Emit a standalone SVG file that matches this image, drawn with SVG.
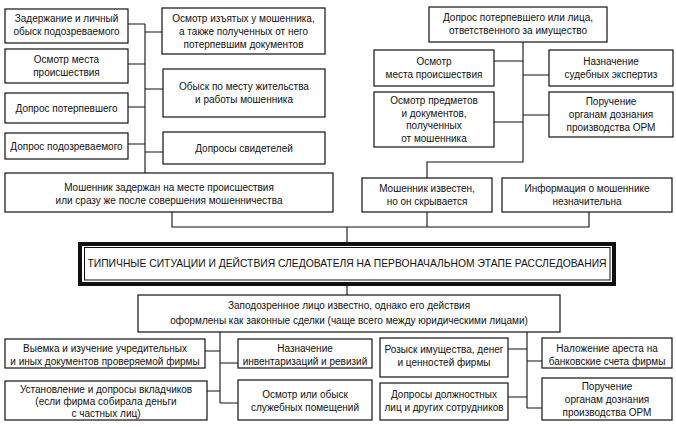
<svg xmlns="http://www.w3.org/2000/svg" width="676" height="427" viewBox="0 0 676 427">
<style>
.box{fill:#fff;stroke:#111;stroke-width:1.2}
.t{font-family:"Liberation Sans",Arial,sans-serif;font-size:10px;fill:#111;text-anchor:middle}
.c{stroke:#111;stroke-width:1.1;fill:none}
.title{font-family:"Liberation Sans",Arial,sans-serif;font-size:11px;fill:#111;text-anchor:middle}
</style>
<rect width="676" height="427" fill="#fff"/>
<g id="connectors">
<path class="c" d="M145,24V173M128,24H145M145,32H162M128,64H145M145,89H163M128,107H145M128,144H145M145,152H163"/>
<path class="c" d="M172,212V227H589V212M427,212V227M347,227V242"/>
<path class="c" d="M523,42V162H427V178M494,61H523M523,75H549M494,122H523M523,115H549"/>
<path class="c" d="M347,286V295"/>
<path class="c" d="M220,332V403M205,351H220M220,363H238M207,391H220M220,403H238"/>
<path class="c" d="M527,332V408M508,349H527M527,361H542M508,397H527M527,408H542"/>
</g>
<g id="n1"><rect class="box" x="5" y="9" width="123" height="34"/><text class="t" x="66.5" y="22">Задержание и личный</text><text class="t" x="66.5" y="35">обыск подозреваемого</text></g>
<g id="n2"><rect class="box" x="5" y="49" width="123" height="34"/><text class="t" x="66.5" y="63">Осмотр места</text><text class="t" x="66.5" y="76">происшествия</text></g>
<g id="n3"><rect class="box" x="5" y="93" width="123" height="30"/><text class="t" x="66.5" y="112">Допрос потерпевшего</text></g>
<g id="n4"><rect class="box" x="5" y="133" width="123" height="26"/><text class="t" x="66.5" y="150">Допрос подозреваемого</text></g>
<g id="n5"><rect class="box" x="162" y="8" width="163" height="46"/><text class="t" x="243.5" y="22">Осмотр изъятых у мошенника,</text><text class="t" x="243.5" y="35">а также полученных от него</text><text class="t" x="243.5" y="48">потерпевшим документов</text></g>
<g id="n6"><rect class="box" x="163" y="69" width="162" height="48"/><text class="t" x="244" y="90">Обыск по месту жительства</text><text class="t" x="244" y="103">и работы мошенника</text></g>
<g id="n7"><rect class="box" x="163" y="132" width="162" height="32"/><text class="t" x="244" y="152">Допросы свидетелей</text></g>
<g id="n8"><rect class="box" x="5" y="173" width="328" height="39"/><text class="t" x="169" y="191">Мошенник задержан на месте происшествия</text><text class="t" x="169" y="204">или сразу же после совершения мошенничества</text></g>
<g id="n9"><rect class="box" x="429" y="7" width="178" height="35"/><text class="t" x="518" y="21">Допрос потерпевшего или лица,</text><text class="t" x="518" y="34">ответственного за имущество</text></g>
<g id="n10"><rect class="box" x="374" y="50" width="120" height="36"/><text class="t" x="434" y="65">Осмотр</text><text class="t" x="434" y="78">места происшествия</text></g>
<g id="n11"><rect class="box" x="374" y="92" width="120" height="55"/><text class="t" x="434" y="104">Осмотр предметов</text><text class="t" x="434" y="117">и документов,</text><text class="t" x="434" y="129">полученных</text><text class="t" x="434" y="142">от мошенника</text></g>
<g id="n12"><rect class="box" x="549" y="50" width="124" height="36"/><text class="t" x="611" y="65">Назначение</text><text class="t" x="611" y="78">судебных экспертиз</text></g>
<g id="n13"><rect class="box" x="549" y="92" width="124" height="45"/><text class="t" x="611" y="105">Поручение</text><text class="t" x="611" y="118">органам дознания</text><text class="t" x="611" y="131">производства ОРМ</text></g>
<g id="n14"><rect class="box" x="362" y="178" width="130" height="34"/><text class="t" x="427" y="192">Мошенник известен,</text><text class="t" x="427" y="205">но он скрывается</text></g>
<g id="n15"><rect class="box" x="502" y="178" width="170" height="34"/><text class="t" x="587" y="192">Информация о мошеннике</text><text class="t" x="587" y="205">незначительна</text></g>
<g id="title"><rect x="80" y="244" width="534" height="40" fill="#fff" stroke="#111" stroke-width="4"/><rect x="84.5" y="247.5" width="525.5" height="32.5" fill="none" stroke="#111" stroke-width="1"/><text class="title" x="347" y="267" textLength="519" lengthAdjust="spacingAndGlyphs">ТИПИЧНЫЕ СИТУАЦИИ И ДЕЙСТВИЯ СЛЕДОВАТЕЛЯ НА ПЕРВОНАЧАЛЬНОМ ЭТАПЕ РАССЛЕДОВАНИЯ</text></g>
<g id="n16"><rect class="box" x="138" y="295" width="422" height="37"/><text class="t" x="349" y="309">Заподозренное лицо известно, однако его действия</text><text class="t" x="349" y="324">оформлены как законные сделки (чаще всего между юридическими лицами)</text></g>
<g id="n17"><rect class="box" x="5" y="339" width="200" height="29"/><text class="t" x="105" y="352">Выемка и изучение учредительных</text><text class="t" x="105" y="365">и иных документов проверяемой фирмы</text></g>
<g id="n18"><rect class="box" x="5" y="381" width="202" height="39"/><text class="t" x="106" y="393">Установление и допросы вкладчиков</text><text class="t" x="106" y="405">(если фирма собирала деньги</text><text class="t" x="106" y="417">с частных лиц)</text></g>
<g id="n19"><rect class="box" x="238" y="339" width="134" height="29"/><text class="t" x="305" y="352">Назначение</text><text class="t" x="305" y="365">инвентаризаций и ревизий</text></g>
<g id="n20"><rect class="box" x="238" y="380" width="134" height="40"/><text class="t" x="305" y="398">Осмотр или обыск</text><text class="t" x="305" y="411">служебных помещений</text></g>
<g id="n21"><rect class="box" x="380" y="338" width="128" height="39"/><text class="t" x="444" y="353">Розыск имущества, денег</text><text class="t" x="444" y="366">и ценностей фирмы</text></g>
<g id="n22"><rect class="box" x="380" y="383" width="128" height="37"/><text class="t" x="444" y="398">Допросы должностных</text><text class="t" x="444" y="411">лиц и других сотрудников</text></g>
<g id="n23"><rect class="box" x="542" y="338" width="130" height="30"/><text class="t" x="607" y="352">Наложение ареста на</text><text class="t" x="607" y="365">банковские счета фирмы</text></g>
<g id="n24"><rect class="box" x="542" y="378" width="130" height="42"/><text class="t" x="607" y="390">Поручение</text><text class="t" x="607" y="403">органам дознания</text><text class="t" x="607" y="416">производства ОРМ</text></g>
</svg>
